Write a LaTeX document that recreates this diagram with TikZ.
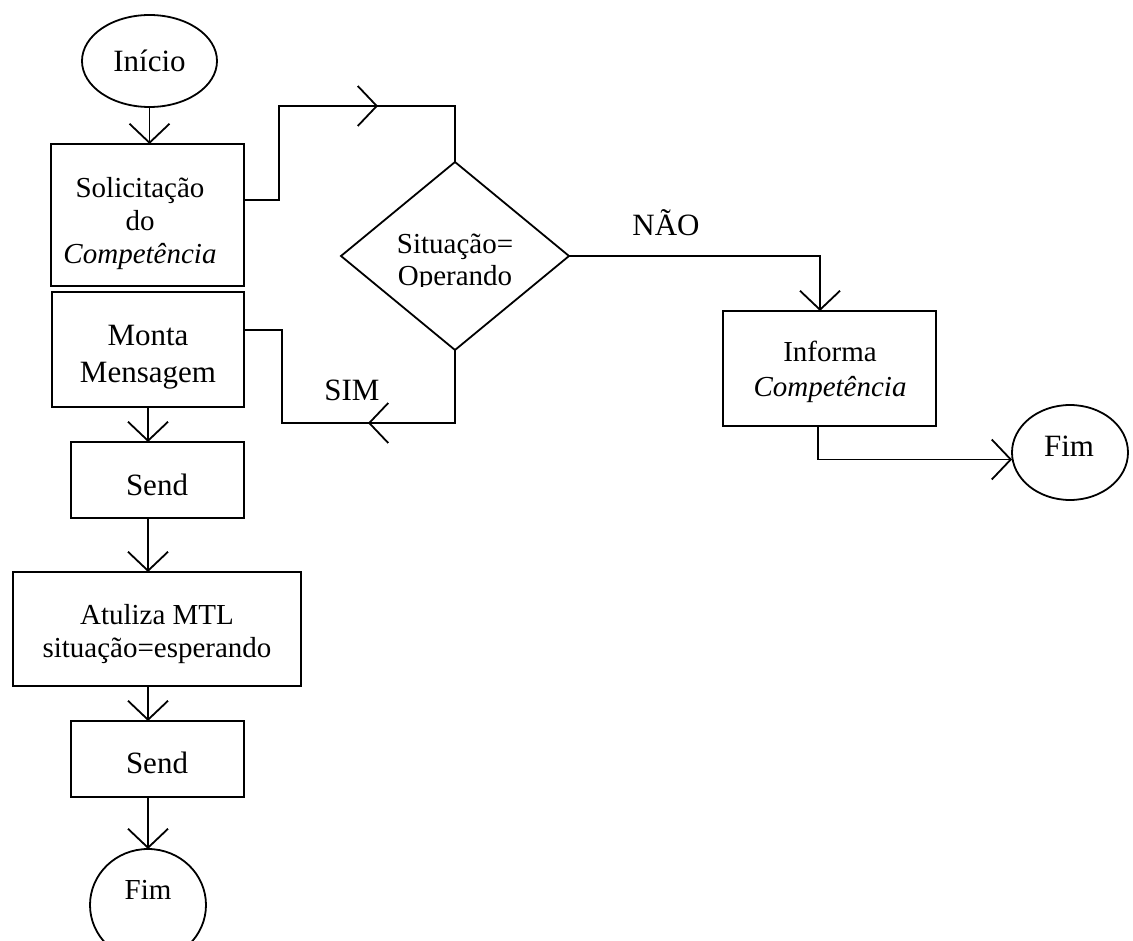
\documentclass[tikz,border=0pt]{standalone}
\usepackage{fontspec}
\setmainfont{Liberation Serif}
\usetikzlibrary{arrows.meta,shapes.geometric,calc,decorations.markings}

\begin{document}
\begin{tikzpicture}[x=1pt,y=-1pt,
  line width=1.8pt,
  every node/.style={inner sep=0pt, outer sep=0pt},
  box/.style={draw, rectangle},
  term/.style={draw, ellipse},
  txt/.style={align=center, font=\fontsize{29}{33}\selectfont},
  big/.style={align=center, font=\fontsize{31}{37}\selectfont},
  barb/.tip={Straight Barb[length=19pt,width=40pt]},
  flow/.style={-barb},
  midarrow/.style={postaction={decorate},
    decoration={markings, mark=at position #1 with {\arrow{barb}}}}
]
\useasboundingbox (0,0) rectangle (1133,941);

% left column
\node[term, minimum width=135pt, minimum height=92pt, big] (ini) at (149.5,61) {Início};
\node[box, minimum width=193pt, minimum height=142pt] (sol) at (147.5,215) {};
\node[txt] at (140,223.5) {Solicitação\\do\\\textit{Competência}};
\node[box, minimum width=192pt, minimum height=115pt] (mon) at (148,349.5) {};
\node[big] at (148,357) {Monta\\Mensagem};
\node[box, minimum width=173pt, minimum height=76pt] (snd1) at (157.5,480) {};
\node[big] at (157,485) {Send};
\node[box, minimum width=288pt, minimum height=114pt] (atu) at (157,629) {};
\node[txt] at (157,634.5) {Atuliza MTL\\situação=esperando};
\node[box, minimum width=173pt, minimum height=76pt] (snd2) at (157.5,759) {};
\node[big] at (157,763) {Send};
\node[term, minimum width=116pt, minimum height=112pt] (fim1) at (148,905) {};
\node[txt] at (148,890) {Fim};

% decision
\node[draw, diamond, aspect=1.2128, minimum width=228pt, minimum height=188pt] (dia) at (455,256) {};
\begin{scope}
  \clip (330,150) rectangle (580,287);
  \node[txt, font=\fontsize{29}{32}\selectfont] at (455,262.5) {Situação=\\Operando};
\end{scope}

% right branch
\node[box, minimum width=213pt, minimum height=115pt] (inf) at (829.5,368.5) {};
\node[txt, font=\fontsize{29}{35}\selectfont] at (830,372) {Informa\\\textit{Competência}};
\node[term, minimum width=116pt, minimum height=95pt] (fim2) at (1070,452.5) {};
\node[big] at (1069,446) {Fim};

% labels
\node[big] (nao) at (666,223) {NÃO};
\node[big] (sim) at (352,390) {SIM};

% main flow
\draw[flow] (ini.south) -- (ini.south |- sol.north);
\draw[flow] (mon.south) -- (mon.south |- snd1.north);
\draw[flow] (snd1.south -| mon.south) -- (atu.north -| mon.south);
\draw[flow] (atu.south -| mon.south) -- (snd2.north -| mon.south);
\draw[flow] (snd2.south -| fim1.north) -- (fim1.north);

% request goes to the decision
\draw[midarrow=228pt] ([yshift=15pt]sol.east) -- ++(35,0) |- ++(176,-94) -- (dia.north);
% yes: back to the message
\draw[midarrow=160pt] (dia.south) -- ++(0,73) -| ++(-173,-93) -- ([yshift=19.5pt]mon.east);
% no: inform and finish
\draw[flow] (dia.east) -| ([xshift=-9.5pt]inf.north);
\draw[flow] ([xshift=-11.5pt]inf.south) |- ([yshift=-7pt]fim2.west);
\end{tikzpicture}
\end{document}
